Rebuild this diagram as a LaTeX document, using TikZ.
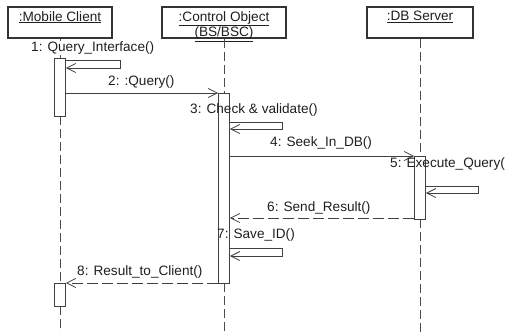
\documentclass[tikz,border=0pt]{standalone}
\usepackage{fontspec}
\setmainfont{Liberation Sans}
\usetikzlibrary{arrows.meta}
\begin{document}
\begin{tikzpicture}[x=1pt,y=-1pt,
  every node/.style={font=\fontsize{13.6}{13.4}\selectfont, text=black!88},
  objbox/.style={draw=black!80, line width=1.1pt, fill=white, minimum height=31pt, inner sep=0pt},
  objtext/.style={anchor=north, inner sep=0pt, align=center},
  act/.style={draw=black!75, line width=0.9pt, fill=white, minimum width=11pt, inner sep=0pt},
  life/.style={draw=black!70, line width=0.9pt, dash pattern=on 9pt off 4pt},
  msg/.style={draw=black!75, line width=0.8pt, -{Straight Barb[length=9pt,width=9pt]}},
  ret/.style={msg, dash pattern=on 11pt off 4pt},
  lbl/.style={anchor=west, inner sep=0pt}]
\path[use as bounding box] (0,0) rectangle (510,334);

% object boxes
\node[objbox, minimum width=104pt] (mc) at (60,22.5) {};
\node[objtext] (mct) at (60,11) {\underline{:Mobile Client}};
\node[objbox, minimum width=124pt] (co) at (224,22.5) {};
\node[objtext] (cot) at (224,11) {\underline{:Control Object}\\\underline{(BS/BSC)}};
\node[objbox, minimum width=106pt] (db) at (420,22.5) {};
\node[objtext] (dbt) at (420,11) {\underline{:DB Server}};

% lifeline ends
\coordinate (mcend) at (60,332);
\coordinate (coend) at (224,332);
\coordinate (dbend) at (420,332);

% activation bar centres
\path (60,87) coordinate (am1c) (224,188) coordinate (acc) (420,187.5) coordinate (adc) (60,294.5) coordinate (am2c);

% lifelines
\draw[life] (mc.south) -- (60,58);
\draw[life] (60,116) -- (60,283);
\draw[life] (60,306) -- (mcend);
\draw[life] (co.south) -- (224,93);
\draw[life] (224,283) -- (coend);
\draw[life] (db.south) -- (420,156);
\draw[life] (420,219) -- (dbend);

% activations
\node[act, minimum height=58pt] (am1) at (am1c) {};
\node[act, minimum height=190pt] (ac) at (acc) {};
\node[act, minimum height=63pt] (ad) at (adc) {};
\node[act, minimum height=23pt] (am2) at (am2c) {};

% messages
\draw[msg] (am1.east |- 0,60) -- (120,60) -- (120,68) -- (am1.east |- 0,68);
\draw[msg] (am1.east |- 0,93) -- (ac.west |- 0,93);
\draw[msg] (ac.east |- 0,122) -- (282,122) -- (282,129) -- (ac.east |- 0,129);
\draw[msg] (ac.east |- 0,156) -- (ad.west |- 0,156);
\draw[msg] (ad.east |- 0,186) -- (478,186) -- (478,193) -- (ad.east |- 0,193);
\draw[ret] (ad.west |- 0,218) -- (ac.east |- 0,218);
\draw[msg] (ac.east |- 0,248) -- (282,248) -- (282,256) -- (ac.east |- 0,256);
\draw[ret] (ac.west |- 0,283) -- (am2.east |- 0,283);

% labels
\node[lbl, fill=white, inner sep=1pt] (t1) at (30,48) {1: Query\_Interface()};
\node[lbl] (t2) at (108,82) {2: :Query()};
\node[lbl] (t3) at (190,110) {3: Check \& validate()};
\node[lbl] (t4) at (270,143) {4: Seek\_In\_DB()};
\node[lbl] (t5) at (390,164) {5: Execute\_Query(};
\node[lbl] (t6) at (267,208) {6: Send\_Result()};
\node[lbl] (t7) at (217,235) {7: Save\_ID()};
\node[lbl] (t8) at (77,272) {8: Result\_to\_Client()};
\end{tikzpicture}
\end{document}
